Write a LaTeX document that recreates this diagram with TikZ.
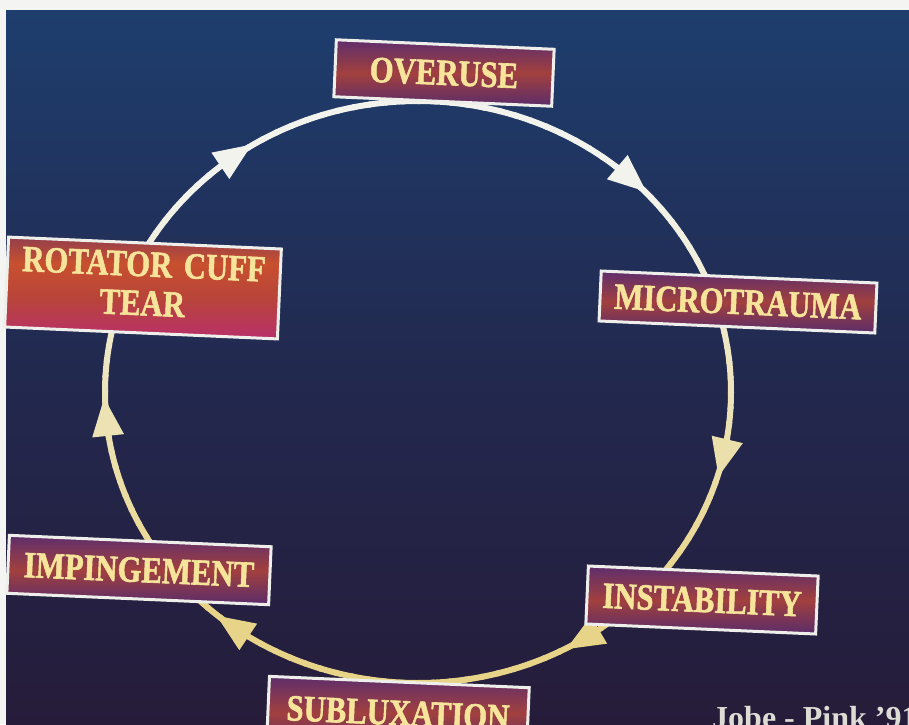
\documentclass[tikz,border=0pt]{standalone}
\usepackage{fontspec}
\setmainfont{Liberation Serif}
\newfontfamily\labfont{Liberation Serif Bold}[FakeBold=1.6]
\usetikzlibrary{calc}
\definecolor{bgtop}{HTML}{1E3E6E}
\definecolor{bgmid}{HTML}{22294F}
\definecolor{bgbot}{HTML}{261C3A}
\definecolor{paper}{HTML}{F4F4F2}
\definecolor{ringw}{HTML}{F2F3EC}
\definecolor{ringy}{HTML}{E8D488}
\definecolor{boxline}{HTML}{EEEEEA}
\definecolor{boxtop}{HTML}{5E2E6C}
\definecolor{boxmid}{HTML}{A2403E}
\definecolor{boxbot}{HTML}{5A2C6A}
\definecolor{labtext}{HTML}{F6E49A}
\definecolor{credit}{HTML}{DCDCD4}
\definecolor{rcmag}{HTML}{B8306A}
\definecolor{rcora}{HTML}{C8502E}
\definecolor{rcred}{HTML}{B8443A}
\pgfdeclareverticalshading{rcshade}{100bp}{%
  color(0bp)=(boxbot); color(25bp)=(rcmag); color(45bp)=(rcred);
  color(62bp)=(rcora); color(88bp)=(boxtop); color(100bp)=(boxtop)}
\newcommand\boxtxt[1]{\scalebox{0.83}[1]{#1}}
\tikzset{
  labelbox/.style={draw=boxline, line width=3, rotate=-2.5, inner sep=0,
    top color=boxtop, bottom color=boxbot, middle color=boxmid,
    text=labtext, font=\fontsize{37}{39}\selectfont\labfont},
  ring/.style={line width=6, line cap=round},
}
\begin{document}
\begin{tikzpicture}[x=1pt,y=-1pt]
\useasboundingbox (0,0) rectangle (909,724);
\clip (0,0) rectangle (909,724);
% paper border and slide background
\fill[paper] (0,0) rectangle (909,724);
\shade[top color=bgtop, bottom color=bgbot, middle color=bgmid] (6,10) rectangle (909,724);
% cycle ring
\foreach \a in {0,3,...,357}{
  \pgfmathtruncatemacro\p{max(0,min(100,50+70*sin(\a+1.5)))}
  \draw[ring, color=ringy!\p!ringw] plot[domain=\a:\a+3.3, samples=4]
    ({418+313*cos(\x)},{392+291*sin(\x)});
}
% arrowheads (clockwise)
\foreach \t in {233.9,312.5,12.5,57.7,125.8,174.5}{
  \pgfmathtruncatemacro\p{max(0,min(100,50+70*sin(\t)))}
  \pgfmathsetmacro\ang{atan2(291*cos(\t),-313*sin(\t))}
  \coordinate (p) at ({418+313*cos(\t)},{392+291*sin(\t)});
  \fill[color=ringy!\p!ringw] ($(p)+(\ang:22)$) -- ($(p)+(\ang+135:22.6)$)
    -- ($(p)+(\ang-135:22.6)$) -- cycle;
}
% labels
\node[labelbox, minimum width=218, minimum height=57] (overuse) at (444,73) {\boxtxt{OVERUSE}};
\node[labelbox, minimum width=276, minimum height=50] (micro) at (738,302) {\boxtxt{MICROTRAUMA}};
\node[labelbox, minimum width=230, minimum height=58] (instab) at (702,600) {\boxtxt{INSTABILITY}};
\node[labelbox, minimum width=260, minimum height=62] (sublux) at (398,713) {\raisebox{-6pt}{\boxtxt{SUBLUXATION}}};
\node[labelbox, minimum width=262, minimum height=58] (imping) at (139,570) {\boxtxt{IMPINGEMENT}};
\node[labelbox, minimum width=273, minimum height=90, shading=rcshade] (rotator) at (143,288)
  {\raisebox{-3pt}{\boxtxt{\begin{tabular}{@{}c@{}}ROTATOR\hspace{14pt}CUFF\\TEAR\end{tabular}}}};
% credit
\node[anchor=north west, inner sep=0, text=credit, font=\fontsize{32}{32}\selectfont\bfseries]
  (credit) at (712,706) {Jobe - Pink '91};
\end{tikzpicture}
\end{document}
